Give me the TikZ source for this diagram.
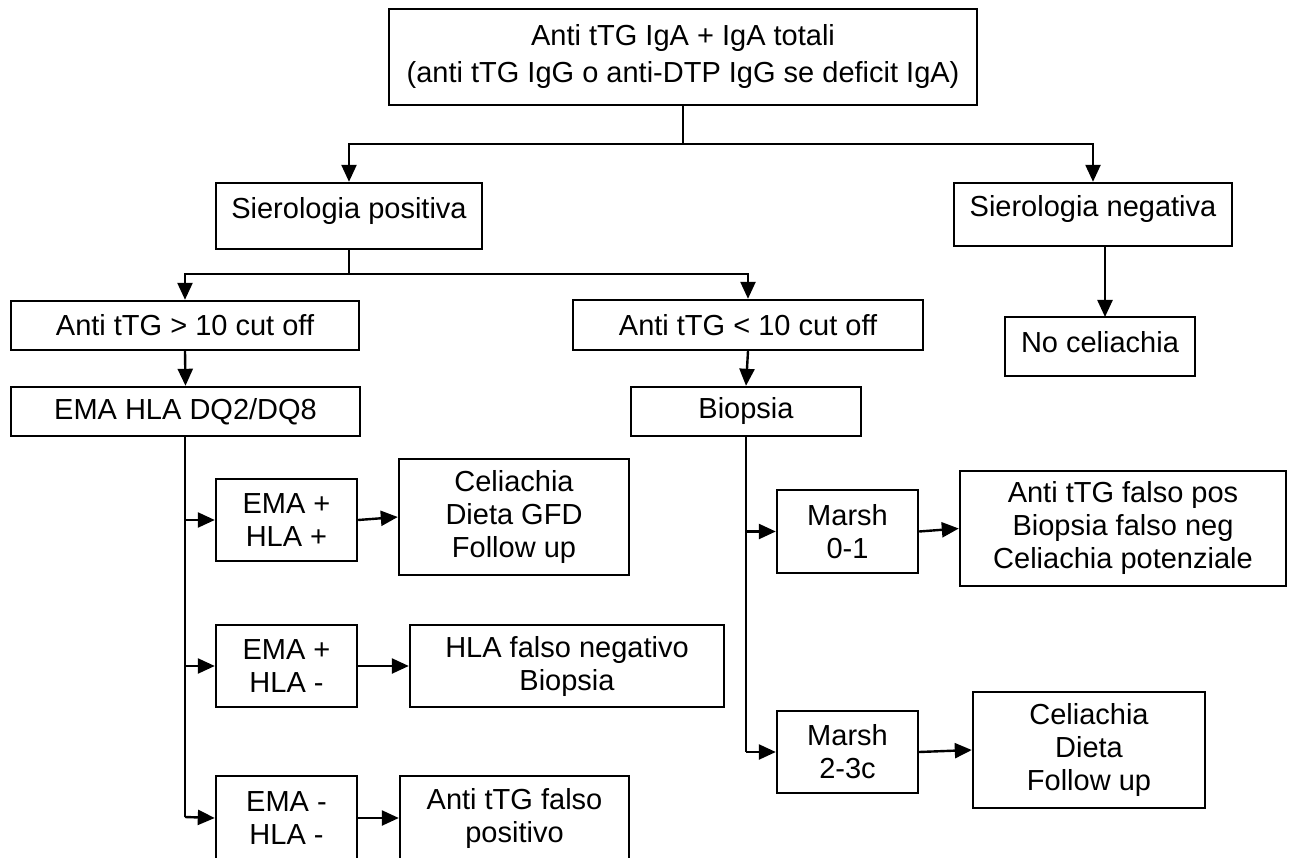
\documentclass[tikz,border=0pt]{standalone}
\usepackage{fontspec}
\setmainfont{Liberation Sans}
\usetikzlibrary{arrows.meta}
\begin{document}
\begin{tikzpicture}[x=1pt,y=-1pt,
  box/.style={draw, line width=2.4pt, inner sep=0pt, align=center, font=\fontsize{29}{33}\selectfont},
  arr/.style={line width=2.4pt, -{Triangle[length=17pt,width=15pt]}},
  ln/.style={line width=2.4pt}]
\useasboundingbox (0,0) rectangle (1293,858);
\clip (0,0) rectangle (1293,858);

% top
\node[box, font=\fontsize{29}{37}\selectfont, minimum width=588pt, minimum height=96pt] (top) at (683,57)
  {Anti tTG IgA + IgA totali\\(anti tTG IgG o anti-DTP IgG se deficit IgA)};
\node[box, text height=21pt, text depth=16pt, minimum width=266pt, minimum height=66pt] (sp) at (349,216) {Sierologia positiva};
\node[box, text height=21pt, text depth=16pt, minimum width=278pt, minimum height=63pt] (sn) at (1093,214.5) {Sierologia negativa};
\node[box, text height=21pt, text depth=8pt, minimum width=190pt, minimum height=59pt] (nc) at (1100,346.5) {No celiachia};

\node[box, minimum width=348pt, minimum height=49pt] (gt) at (185,325.5) {Anti tTG > 10 cut off};
\node[box, minimum width=350pt, minimum height=50pt] (lt) at (748,325) {Anti tTG < 10 cut off};
\node[box, minimum width=349pt, minimum height=49pt] (ema) at (185.5,411.5) {EMA HLA DQ2/DQ8};
\node[box, minimum width=230pt, minimum height=49pt] (bio) at (746,411.5) {Biopsia};

% left branch
\node[box, minimum width=141pt, minimum height=82pt] (e1) at (286.5,520) {EMA +\\HLA +};
\node[box, minimum width=141pt, minimum height=82pt] (e2) at (286.5,666) {EMA +\\HLA -};
\node[box, minimum width=141pt, minimum height=84pt] (e3) at (286.5,818) {EMA -\\HLA -};
\node[box, minimum width=230pt, minimum height=116pt] (c1) at (514,517) {Celiachia\\Dieta GFD\\Follow up};
\node[box, minimum width=314pt, minimum height=82pt] (c2) at (567,666) {HLA falso negativo\\Biopsia};
\node[box, minimum width=229pt, minimum height=84pt] (c3) at (514.5,818) {Anti tTG falso\\positivo};

% right branch
\node[box, minimum width=141pt, minimum height=83pt] (m1) at (847.5,531.5) {Marsh\\0-1};
\node[box, minimum width=141pt, minimum height=82pt] (m2) at (847.5,752) {Marsh\\2-3c};
\node[box, minimum width=326pt, minimum height=115pt] (r1) at (1123,528.5) {Anti tTG falso pos\\Biopsia falso neg\\Celiachia potenziale};
\node[box, minimum width=232pt, minimum height=116pt] (r2) at (1089,750) {Celiachia\\Dieta\\Follow up};

% connectors
\coordinate (j1) at (683,144);
\draw[ln] (top.south) -- (j1);
\draw[arr] (j1) -| (sp.north);
\draw[arr] (j1) -| (sn.north);

\coordinate (j2) at (349,274);
\draw[ln] (sp.south) -- (j2);
\draw[arr] (j2) -| (gt.north);
\draw[arr] (j2) -| (lt.north);

\coordinate (ncin) at (1105,317);
\draw[arr] (sn.south -| ncin) -- (ncin);

\draw[arr] (gt.south) -- (ema.north);
\draw[arr] (lt.south) -- (bio.north);

\coordinate (lb) at (185,817);
\draw[ln] (ema.south -| lb) -- (lb);
\draw[arr] (e1.west -| lb) -- (e1.west);
\draw[arr] (e2.west -| lb) -- (e2.west);
\draw[arr] (lb) -- (e3.west);
\draw[arr] (e1.east) -- (c1.west);
\draw[arr] (e2.east) -- (c2.west);
\draw[arr] (e3.east) -- (c3.west);

\coordinate (rb) at (746,752);
\draw[ln] (bio.south) -- (rb);
\draw[arr] (m1.west -| rb) -- (m1.west);
\draw[arr] (rb) -- (m2.west);
\draw[arr] (m1.east) -- (r1.west);
\draw[arr] (m2.east) -- (r2.west);
\end{tikzpicture}
\end{document}
